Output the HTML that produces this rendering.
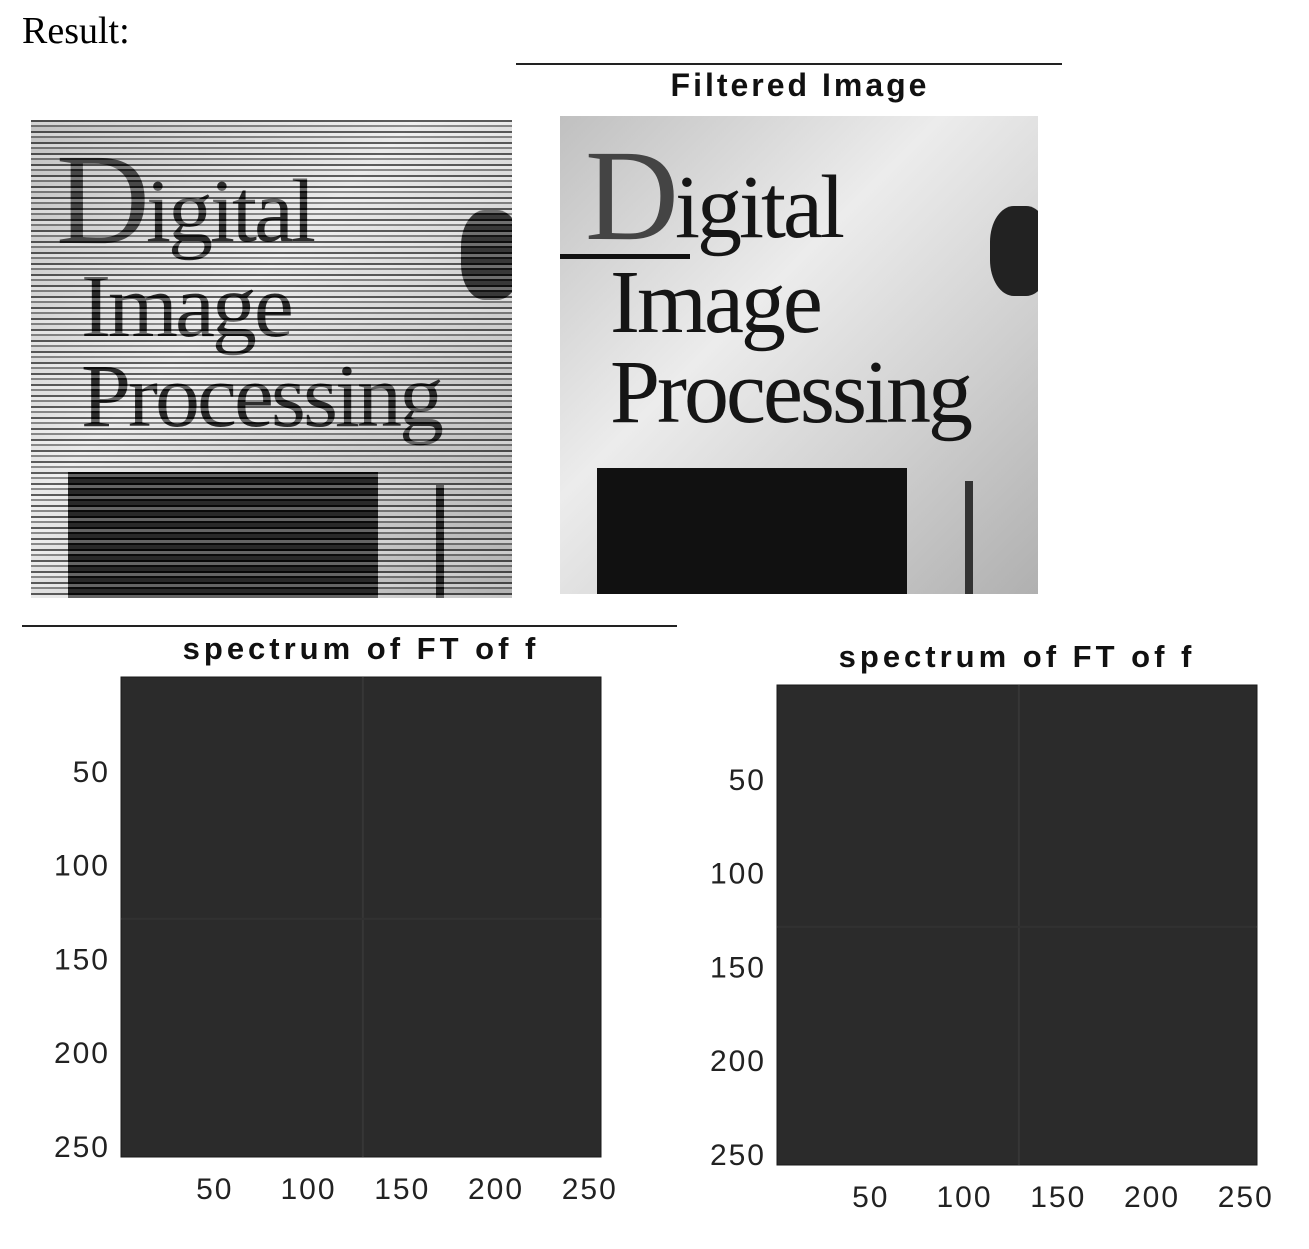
<!DOCTYPE html>
<html><head><meta charset="utf-8">
<style>
body{margin:0;width:1309px;height:1249px;background:#fff;position:relative;overflow:hidden;font-family:"Liberation Sans",sans-serif}
.abs{position:absolute}
.serif{font-family:"Liberation Serif",serif}
.img{position:absolute;overflow:hidden;background:#d8d8d8}
.txt{position:absolute;color:#151515;font-family:"Liberation Serif",serif;white-space:nowrap;letter-spacing:-3px}
.title{position:absolute;font-weight:bold;font-size:32px;letter-spacing:3px;color:#111;white-space:nowrap;transform:translateX(-50%)}
.hline{position:absolute;height:1.5px;background:#222}
</style></head><body>
<div class="abs serif" style="left:22px;top:9px;font-size:38px">Result:</div>
<div class="hline" style="left:516px;top:63px;width:546px"></div>
<div class="title" style="left:800px;top:67px">Filtered Image</div>

<div class="img" style="left:31px;top:120px;width:481px;height:478px;background:linear-gradient(135deg,#bbb,#e8e8e8 40%,#c8c8c8 70%,#aaa)">
 <div class="txt" style="left:25px;top:5px;font-size:130px;color:#333">D</div>
 <div class="txt" style="left:115px;top:40px;font-size:90px">igital</div>
 <div class="txt" style="left:50px;top:135px;font-size:90px">Image</div>
 <div class="txt" style="left:50px;top:225px;font-size:90px">Processing</div>
 <div class="abs" style="left:430px;top:90px;width:60px;height:90px;background:#222;border-radius:40%"></div>
 <div class="abs" style="left:37px;top:352px;width:310px;height:130px;background:#111"></div>
 <div class="abs" style="left:405px;top:365px;width:8px;height:120px;background:#111"></div>
 <div class="abs" style="left:0;top:0;width:100%;height:100%;background:repeating-linear-gradient(180deg,rgba(0,0,0,0.6) 0 2px,rgba(255,255,255,0.35) 2px 5px,rgba(0,0,0,0.4) 5px 7px,rgba(255,255,255,0.1) 7px 11px)"></div>
</div>

<div class="img" style="left:560px;top:116px;width:478px;height:478px;background:linear-gradient(135deg,#c0c0c0,#ececec 40%,#cfcfcf 70%,#b0b0b0)">
 <div class="txt" style="left:25px;top:5px;font-size:130px;color:#444">D</div>
 <div class="txt" style="left:115px;top:40px;font-size:90px">igital</div>
 <div class="txt" style="left:50px;top:135px;font-size:90px">Image</div>
 <div class="txt" style="left:50px;top:225px;font-size:90px">Processing</div>
 <div class="abs" style="left:0;top:138px;width:130px;height:5px;background:#111"></div>
 <div class="abs" style="left:430px;top:90px;width:60px;height:90px;background:#222;border-radius:40%"></div>
 <div class="abs" style="left:37px;top:352px;width:310px;height:126px;background:#111"></div>
 <div class="abs" style="left:405px;top:365px;width:8px;height:120px;background:#333"></div>
</div>

<div class="hline" style="left:22px;top:625px;width:655px"></div>

<svg class="abs" style="left:0;top:0" width="1309" height="1249" id="charts"></svg>

<script>
const xTicks=[50,100,150,200,250];
const yTicks=[50,100,150,200,250];
const domainMax=256;
const panels=[
 {name:'left',x:121,y:677,size:480,titleY:659,titleText:'spectrum of FT of f'},
 {name:'right',x:777,y:685,size:480,titleY:667,titleText:'spectrum of FT of f'}
];
const svg=document.getElementById('charts');
const NS='http://www.w3.org/2000/svg';
function mk(t,a){const e=document.createElementNS(NS,t);for(const k in a)e.setAttribute(k,a[k]);return e;}
panels.forEach(p=>{
 const sx=v=>p.x+v/domainMax*p.size;
 const sy=v=>p.y+v/domainMax*p.size;
 const g=mk('g',{});
 
 
 const r=mk('rect',{x:p.x,y:p.y,width:p.size,height:p.size,fill:'#2b2b2b',stroke:'#1a1a1a','stroke-width':1});
 
 
 g.appendChild(r);
 const c=sx(129);
 g.appendChild(mk('line',{x1:c,y1:p.y,x2:c,y2:p.y+p.size,stroke:'#363636','stroke-width':2}));
 g.appendChild(mk('line',{x1:p.x,y1:sy(129),x2:p.x+p.size,y2:sy(129),stroke:'#313131','stroke-width':2}));
 const t=mk('text',{x:p.x+p.size/2,y:p.titleY,'text-anchor':'middle','font-size':31,'font-weight':'bold','letter-spacing':4,fill:'#111','font-family':'Liberation Sans, sans-serif'});
 t.textContent=p.titleText;
 
 
 g.appendChild(t);
 yTicks.forEach(v=>{
  const e=mk('text',{x:p.x-11,y:sy(v)+11,'text-anchor':'end','font-size':30,'letter-spacing':2,fill:'#222','font-family':'Liberation Sans, sans-serif'});
  e.textContent=v;
  
  
  g.appendChild(e);
 });
 xTicks.forEach(v=>{
  const e=mk('text',{x:sx(v),y:p.y+p.size+42,'text-anchor':'middle','font-size':30,'letter-spacing':2,fill:'#222','font-family':'Liberation Sans, sans-serif'});
  e.textContent=v;
  
  
  g.appendChild(e);
 });
 svg.appendChild(g);
});
</script>
</body></html>
